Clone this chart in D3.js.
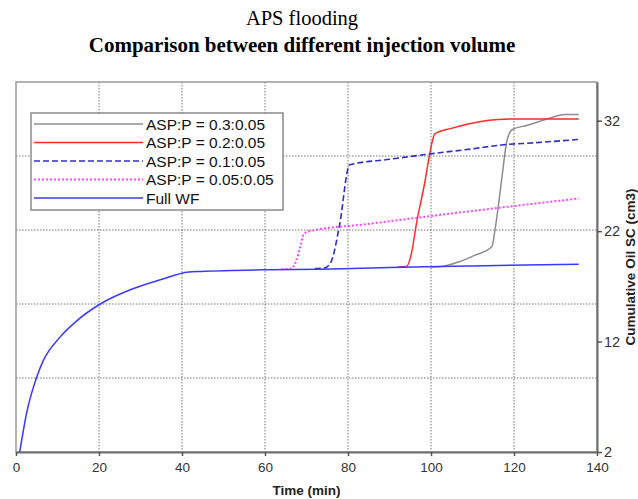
<!DOCTYPE html>
<html>
<head>
<meta charset="utf-8">
<script src="https://cdn.jsdelivr.net/npm/d3@7"></script>
<style>
  body { margin: 0; background: #fff; }
  svg { display: block; }
</style>
</head>
<body>
<div id="chart"></div>
<script>
var width = 638,
    height = 499;

var titleLine1 = "APS flooding";
var titleLine2 = "Comparison between different injection volume";
var xLabel = "Time (min)";
var yLabel = "Cumulative Oil SC (cm3)";

var xTicks = [0, 20, 40, 60, 80, 100, 120, 140];
var yTicks = [2, 12, 22, 32];

var seriesNames = ["ASP:P = 0.3:0.05", "ASP:P = 0.2:0.05", "ASP:P = 0.1:0.05", "ASP:P = 0.05:0.05", "Full WF"];

// values
var wfX = [0.9, 2.6, 5, 6.6, 10.6, 14.7, 20.3, 28.3, 34.8, 41.6, 44.5, 60.6, 73.5, 90, 110, 135.6];
var wfY = [2, 5.6, 8.8, 10.3, 12.4, 13.9, 15.4, 16.8, 17.6, 18.3, 18.35, 18.5, 18.55, 18.7, 18.85, 19.0];

var grayX = [100, 102.5, 106.6, 110.5, 114.7, 115.3, 116.3, 117.3, 118.2, 118.8, 119.6, 123.5, 128.3, 132.3, 135.6];
var grayY = [18.75, 18.8, 19.2, 19.8, 20.6, 21.8, 24.5, 27.5, 30.0, 30.8, 31.2, 31.6, 32.2, 32.55, 32.55];

var redX = [92, 94.1, 95.3, 96.5, 98.5, 99.7, 100.5, 100.9, 104.9, 111.7, 116.2, 120.2, 135.6];
var redY = [18.75, 18.8, 20.0, 22.7, 26.4, 29.0, 30.4, 30.8, 31.3, 31.9, 32.1, 32.15, 32.15];

var dashX = [72, 74.3, 75.9, 77.9, 80.4, 90, 100, 110, 117, 125, 135.6];
var dashY = [18.6, 18.65, 19.2, 22.4, 28.0, 28.5, 29.0, 29.45, 29.8, 30.0, 30.3];

var dotX = [64, 66.2, 67.5, 68.5, 69.3, 70.3, 85, 100.8, 115, 135.6];
var dotY = [18.55, 18.6, 19.3, 20.6, 21.7, 21.95, 22.65, 23.4, 24.05, 24.95];

var series = [
    {name: seriesNames[0], xs: grayX, ys: grayY, color: "#8c8c8c", dash: null, w: 1.5},
    {name: seriesNames[1], xs: redX, ys: redY, color: "#ff2a2a", dash: null, w: 1.5},
    {name: seriesNames[2], xs: dashX, ys: dashY, color: "#2f2fc8", dash: "6,3", w: 1.6},
    {name: seriesNames[3], xs: dotX, ys: dotY, color: "#ff44ff", dash: "2,2", w: 2},
    {name: seriesNames[4], xs: wfX, ys: wfY, color: "#3a3aff", dash: null, w: 1.5}
];

var margin = {top: 82, right: 41, bottom: 47, left: 16};
var plotW = width - margin.left - margin.right,
    plotH = height - margin.top - margin.bottom;

var x = d3.scaleLinear().domain([0, 140]).range([0, plotW]);
var y = d3.scaleLinear().domain([2, 35.5]).range([plotH, 0]);
// the grid follows a hidden primary axis split into five parts
var gridY = d3.scaleLinear().domain([0, 5]).range([plotH, 0]);

var svg = d3.select("#chart").append("svg")
    .attr("width", width)
    .attr("height", height);

svg.append("text")
    .attr("x", 302).attr("y", 25)
    .attr("text-anchor", "middle")
    .style("font-family", "'Liberation Serif', 'Times New Roman', serif")
    .style("font-size", "20.5px")
    .text(titleLine1);

svg.append("text")
    .attr("x", 302).attr("y", 52)
    .attr("text-anchor", "middle")
    .style("font-family", "'Liberation Serif', 'Times New Roman', serif")
    .style("font-size", "21px")
    .style("font-weight", "bold")
    .text(titleLine2);

var g = svg.append("g").attr("transform", "translate(" + margin.left + "," + margin.top + ")");

// grid
g.append("g").selectAll("line")
    .data(xTicks.slice(1, -1))
    .join("line")
    .attr("x1", d => x(d)).attr("x2", d => x(d))
    .attr("y1", 0).attr("y2", plotH)
    .attr("stroke", "#777").attr("stroke-width", 1)
    .attr("stroke-dasharray", "1.5,1.5");

g.append("g").selectAll("line")
    .data([1, 2, 3, 4])
    .join("line")
    .attr("x1", 0).attr("x2", plotW)
    .attr("y1", d => gridY(d)).attr("y2", d => gridY(d))
    .attr("stroke", "#777").attr("stroke-width", 1)
    .attr("stroke-dasharray", "1.5,1.5");

// frame
g.append("rect")
    .attr("x", 0).attr("y", 0)
    .attr("width", plotW).attr("height", plotH)
    .attr("fill", "none")
    .attr("stroke", "#9a9a9a").attr("stroke-width", 1.5);

var line = d3.line()
    .curve(d3.curveMonotoneX)
    .x(d => x(d[0]))
    .y(d => y(d[1]));

series.forEach(function(s) {
    var pts = s.xs.map((v, i) => [v, s.ys[i]]);
    g.append("path")
        .datum(pts)
        .attr("d", line)
        .attr("fill", "none")
        .attr("stroke", s.color)
        .attr("stroke-width", s.w)
        .attr("stroke-dasharray", s.dash)
        .attr("stroke-linejoin", "round");
});

// axes
var xAxis = g.append("g")
    .attr("transform", "translate(0," + plotH + ")")
    .call(d3.axisBottom(x).tickValues(xTicks).tickSize(4).tickPadding(6).tickSizeOuter(0));

var yAxis = g.append("g")
    .attr("transform", "translate(" + plotW + ",0)")
    .call(d3.axisRight(y).tickValues(yTicks).tickSize(5).tickPadding(2).tickSizeOuter(0));

[xAxis, yAxis].forEach(function(a) {
    a.select(".domain").attr("stroke", "#6e6e6e").attr("stroke-width", 2);
    a.selectAll(".tick line").attr("stroke", "#555").attr("stroke-width", 1.5);
    a.selectAll(".tick text")
        .attr("fill", "#333")
        .style("font-family", "Arial, 'Liberation Sans', sans-serif")
        .style("font-size", "13.5px");
});
yAxis.selectAll(".tick text").style("font-size", "14.5px");

svg.append("text")
    .attr("x", margin.left + plotW / 2).attr("y", 495)
    .attr("text-anchor", "middle")
    .style("font-family", "Arial, 'Liberation Sans', sans-serif")
    .style("font-size", "13.5px")
    .style("font-weight", "bold")
    .attr("fill", "#222")
    .text(xLabel);

svg.append("text")
    .attr("transform", "translate(635," + (margin.top + plotH / 2) + ") rotate(-90)")
    .attr("text-anchor", "middle")
    .style("font-family", "Arial, 'Liberation Sans', sans-serif")
    .style("font-size", "13.5px")
    .style("font-weight", "bold")
    .attr("fill", "#222")
    .text(yLabel);

// legend
var legend = svg.append("g").attr("transform", "translate(31,113)");
legend.append("rect")
    .attr("width", 252).attr("height", 97)
    .attr("fill", "#fff")
    .attr("stroke", "#8a8a8a").attr("stroke-width", 1.5);

var rows = legend.selectAll("g.row")
    .data(series)
    .join("g")
    .attr("class", "row")
    .attr("transform", (d, i) => "translate(0," + (11 + i * 18.5) + ")");

rows.append("line")
    .attr("x1", 3).attr("x2", 112)
    .attr("stroke", d => d.color)
    .attr("stroke-width", d => d.w)
    .attr("stroke-dasharray", d => d.dash);

rows.append("text")
    .attr("x", 115).attr("dy", "0.36em")
    .style("font-family", "Arial, 'Liberation Sans', sans-serif")
    .style("font-size", "15.5px")
    .attr("fill", "#111")
    .text(d => d.name);
</script>
</body>
</html>
